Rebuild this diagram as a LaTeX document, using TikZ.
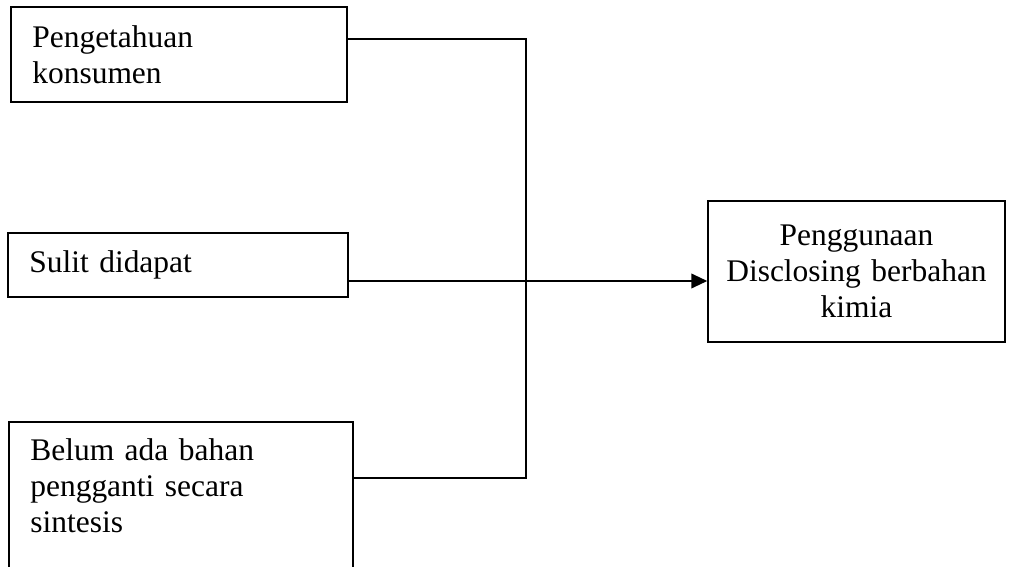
\documentclass[tikz,border=0pt]{standalone}
\usepackage{fontspec}
\setmainfont{Liberation Serif}
\usetikzlibrary{arrows.meta}

\begin{document}
\begin{tikzpicture}[x=0.75pt, y=-0.75pt,
	box/.style={draw, rectangle, line width=1.1pt, inner ysep=0pt, font=\fontsize{23.6pt}{27pt}\selectfont},
	lbox/.style={box, align=left, inner xsep=16pt},
	cbox/.style={box, align=center, inner xsep=8pt}]
			%\draw [help lines] (0,0) grid[step=50] (1013,567);
			\useasboundingbox (0,0) rectangle (1013,567);
			\node [lbox, text width=220pt, minimum height=71.25pt] (pengetahuan) at (179,54.5) {Pengetahuan\\konsumen};
			\node [lbox, text width=223pt, minimum height=48pt] (sulit) at (178,265) {Sulit didapat};
			\node [lbox, text width=226pt, text depth=71pt, minimum height=112.5pt] (belum) at (181,497) {Belum ada bahan\\pengganti secara\\sintesis};
			\node [cbox, text width=206.75pt, minimum height=105.75pt] (penggunaan) at (856.5,271.5) {Penggunaan\\Disclosing berbahan\\kimia};
			\coordinate (atas) at (526,39);
			\coordinate (bawah) at (526,478);
			\coordinate (temu) at (526,281);
			\draw [line width=1.8pt] (pengetahuan.east |- atas) -- (atas) -- (temu);
			\draw [line width=1.1pt] (belum.east |- bawah) -- (bawah) -- (temu);
			\draw [line width=1.4pt, -{Triangle[length=12pt,width=11pt]}] (sulit.east |- temu) -- (penggunaan.west |- temu);
	\end{tikzpicture}
\end{document}
